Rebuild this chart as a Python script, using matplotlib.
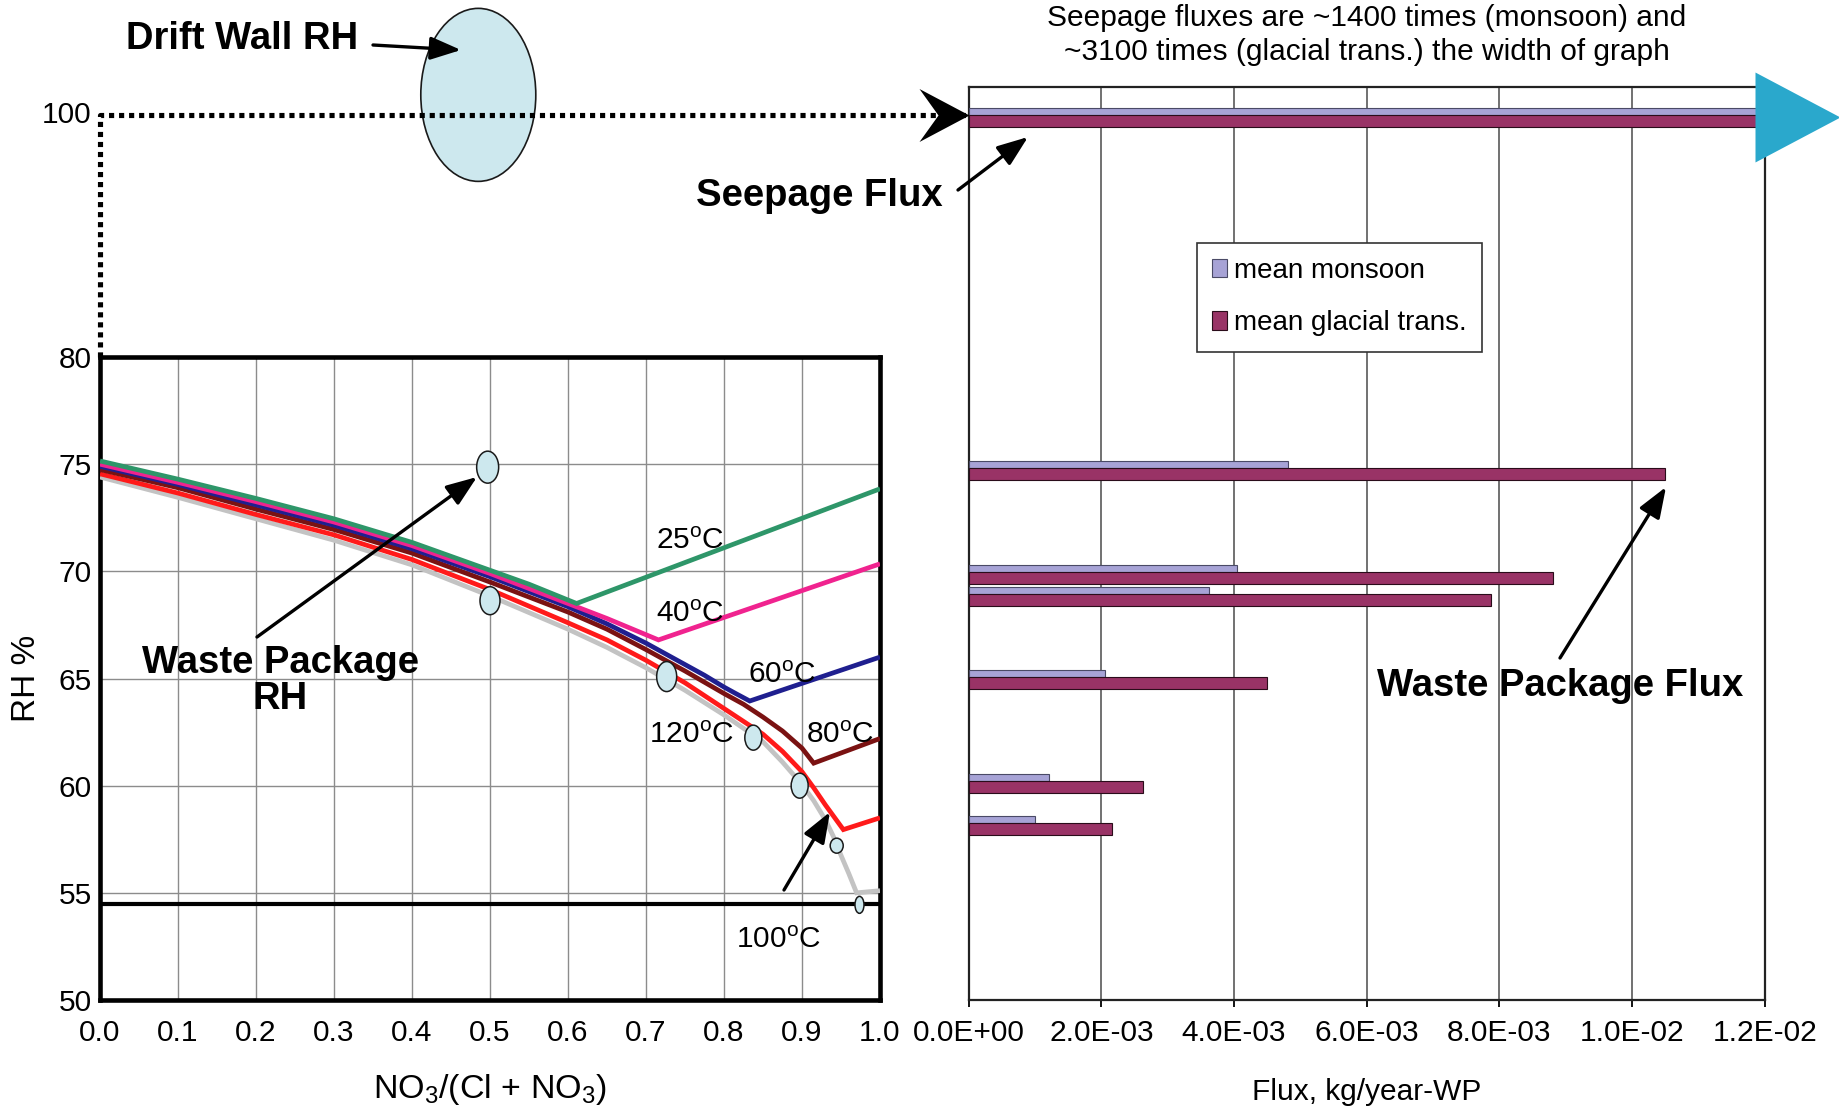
import numpy as np
import matplotlib
matplotlib.use('Agg')
import matplotlib.pyplot as plt
from matplotlib.patches import Ellipse, Patch, FancyArrowPatch
from matplotlib.path import Path
from matplotlib.transforms import ScaledTranslation
from matplotlib.ticker import FuncFormatter

plt.rcParams['font.family'] = ['Liberation Sans', 'DejaVu Sans']
plt.rcParams['mathtext.fontset'] = 'custom'
plt.rcParams['mathtext.rm'] = 'Liberation Sans'
plt.rcParams['mathtext.it'] = 'Liberation Sans:italic'
plt.rcParams['mathtext.bf'] = 'Liberation Sans:bold'

W, H = 1840, 1116

# ---------------- data: deliquescence curves (NO3/(Cl+NO3) vs RH %) ----------------
x_25 = [0.0, 0.1, 0.2, 0.3, 0.4, 0.5, 0.55, 0.611, 1.0]
rh_25 = [75.15, 74.3, 73.4, 72.45, 71.35, 70.05, 69.4, 68.5, 73.85]

x_40 = [0.0, 0.1, 0.2, 0.3, 0.4, 0.5, 0.6, 0.65, 0.716, 1.0]
rh_40 = [75.0, 74.15, 73.25, 72.3, 71.2, 69.9, 68.5, 67.8, 66.8, 70.35]

x_60 = [0.0, 0.1, 0.2, 0.3, 0.4, 0.5, 0.6, 0.65, 0.7, 0.75, 0.775, 0.8, 0.815, 0.833, 1.0]
rh_60 = [74.9, 74.05, 73.1, 72.15, 71.05, 69.75, 68.35, 67.55, 66.65, 65.65, 65.15, 64.6, 64.3, 63.95, 66.0]

x_80 = [0.0, 0.1, 0.2, 0.3, 0.4, 0.5, 0.6, 0.65, 0.7, 0.75, 0.8, 0.825, 0.85, 0.875, 0.9, 0.915, 1.0]
rh_80 = [74.75, 73.9, 72.9, 71.95, 70.85, 69.5, 68.1, 67.3, 66.35, 65.35, 64.3, 63.8, 63.2, 62.55, 61.75, 61.05, 62.2]

x_100 = [0.0, 0.1, 0.2, 0.3, 0.4, 0.5, 0.6, 0.65, 0.7, 0.75, 0.8, 0.85, 0.875, 0.9, 0.915, 0.93, 0.94, 0.953, 1.0]
rh_100 = [74.55, 73.65, 72.65, 71.7, 70.55, 69.15, 67.6, 66.8, 65.85, 64.8, 63.6, 62.4, 61.6, 60.65, 59.9, 59.1, 58.6, 57.95, 58.5]

x_120 = [0.0, 0.1, 0.2, 0.3, 0.4, 0.5, 0.6, 0.65, 0.7, 0.75, 0.8, 0.85, 0.875, 0.9, 0.915,
         0.93, 0.94, 0.95, 0.96, 0.97, 1.0]
rh_120 = [74.4, 73.45, 72.45, 71.45, 70.3, 68.85, 67.3, 66.45, 65.5, 64.45, 63.3, 62.05, 61.1, 60.05, 59.3,
          58.4, 57.65, 56.75, 55.9, 55.0, 55.1]

floor_rh = 54.5

# waste package RH markers
wp_x = [0.497, 0.5, 0.7265, 0.8376, 0.897, 0.9445, 0.9737]
wp_rh = [74.86, 68.63, 65.09, 62.24, 60.0, 57.2, 54.44]
drift_wall_rh = 100

# ---------------- data: fluxes ----------------
graph_width = 1.2e-2
seepage_ratio = [1400, 3100]          # times the width of graph
flux_rh = [100, 74.8, 69.95, 68.95, 65.05, 60.2, 58.25]
flux_monsoon = [seepage_ratio[0] * graph_width, 4.81e-3, 4.04e-3, 3.62e-3, 2.06e-3, 1.21e-3, 1.0e-3]
flux_glacial = [seepage_ratio[1] * graph_width, 1.05e-2, 8.81e-3, 7.88e-3, 4.50e-3, 2.63e-3, 2.16e-3]

# broken RH axis: values above 80 are compressed
RH_BREAK = 80.0
BREAK_SCALE = 0.565


def rh_axis(rh):
    rh = np.asarray(rh, dtype=float)
    return np.where(rh <= RH_BREAK, rh, RH_BREAK + (rh - RH_BREAK) * BREAK_SCALE)


def img(x, y):
    # image pixel (top-left origin) -> figure pixels
    return (x, H - y)


def px_axes(fig, x0, y0, x1, y1):
    return fig.add_axes([x0 / W, 1 - y1 / H, (x1 - x0) / W, (y1 - y0) / H])


FS = 21.5
FS_BOLD = 27.5
MONSOON = '#a7a3d6'
GLACIAL = '#993366'
ELL_FACE = '#cde8ee'

fig = plt.figure(figsize=(W / 100, H / 100), dpi=100)
axl = px_axes(fig, 100, 357, 880, 1000)
axr = px_axes(fig, 968.7, 87, 1764.8, 1000)

# ---------------- left panel ----------------
axl.set_xlim(0, 1)
axl.set_ylim(50, 80)
axl.set_xticks(np.linspace(0, 1, 11))
axl.xaxis.set_major_formatter(FuncFormatter(lambda v, _: f'{v:.1f}'))
axl.set_yticks([50, 55, 60, 65, 70, 75, 80])
axl.grid(True, color='#8c8c8c', lw=1.0)
axl.set_axisbelow(True)
axl.tick_params(length=0, labelsize=FS)
axl.tick_params(axis='x', pad=14)
axl.tick_params(axis='y', pad=6)
for sp in axl.spines.values():
    sp.set_linewidth(3.3)

axl.axhline(floor_rh, color='black', lw=3.0, zorder=3)

curves = [
    (x_120, rh_120, '#c3c3c3'),
    (x_100, rh_100, '#ff1a1a'),
    (x_80, rh_80, '#7a1212'),
    (x_60, rh_60, '#1f1f8f'),
    (x_40, rh_40, '#f0238f'),
    (x_25, rh_25, '#2e9669'),
]
for xs, ys, c in curves:
    axl.plot(xs, ys, color=c, lw=3.4, solid_joinstyle='miter', solid_capstyle='butt', zorder=4)

ell_size_px = [(22, 32), (20, 28), (20, 30), (17, 25), (17, 25), (13, 15), (9, 17)]
for (x, r), (w, h) in zip(zip(wp_x, wp_rh), ell_size_px):
    tr = fig.dpi_scale_trans + ScaledTranslation(x, r, axl.transData)
    axl.add_patch(Ellipse((0, 0), w / 100, h / 100, transform=tr,
                          facecolor=ELL_FACE, edgecolor='#1a1a1a', lw=1.1, zorder=6))

# drift wall RH ellipse (sits just above the 100 line)
tr = fig.dpi_scale_trans + ScaledTranslation(0.485, float(rh_axis(drift_wall_rh)) + 0.93, axl.transData)
axl.add_patch(Ellipse((0, 0), 1.15, 1.73, transform=tr, facecolor=ELL_FACE,
                      edgecolor='#1a1a1a', lw=1.2, clip_on=False, zorder=2))

temp_labels = [('25', 0.756, 71.41), ('40', 0.756, 68.0), ('60', 0.874, 65.15),
               ('120', 0.758, 62.35), ('80', 0.949, 62.35), ('100', 0.870, 52.8)]
for t, x, y in temp_labels:
    axl.text(x, y, t + r'$^{\mathrm{o}}$C', fontsize=FS, ha='center', va='center', zorder=7)

axl.set_xlabel(r'NO$_3$/(Cl + NO$_3$)', fontsize=24.5, labelpad=18)
axl.set_ylabel('RH %', fontsize=24, labelpad=12)

# "100" label of the compressed part of the RH axis
axl.annotate(str(drift_wall_rh), xy=(0, float(rh_axis(drift_wall_rh))), xytext=(-6, 0),
             textcoords='offset points', ha='right', va='center', fontsize=FS,
             annotation_clip=False)

# ---------------- right panel ----------------
axr.set_xlim(0, graph_width)
axr.set_ylim(50, 92.6)
axr.set_xticks(np.linspace(0, graph_width, 7))
axr.xaxis.set_major_formatter(FuncFormatter(lambda v, _: f'{v:.1E}'))
axr.set_yticks([])
axr.grid(True, axis='x', color='#4a4a4a', lw=1.1)
axr.set_axisbelow(True)
axr.tick_params(axis='x', direction='out', length=5, width=1.3, labelsize=FS, pad=9)
for sp in axr.spines.values():
    sp.set_linewidth(1.6)
    sp.set_color('#222222')

ypos = rh_axis(flux_rh)
axr.barh(ypos, flux_monsoon, height=0.34, align='edge', color=MONSOON,
         edgecolor='#4a4a66', lw=0.8, zorder=3)
axr.barh(ypos - 0.56, flux_glacial, height=0.56, align='edge', color=GLACIAL,
         edgecolor='#2a0c1a', lw=0.8, zorder=3)

axr.set_xlabel('Flux, kg/year-WP', fontsize=FS, labelpad=22)

# dotted drift wall RH line from the left panel to the seepage bars
x_left = axr.transData.inverted().transform(axl.transData.transform((0, RH_BREAK)))[0]
y100 = float(rh_axis(drift_wall_rh))
axr.plot([x_left, x_left, 0], [RH_BREAK, y100, y100], color='black', lw=3.7,
         ls=(0, (1, 0.95)), dash_capstyle='butt', clip_on=False, zorder=8)

arrow_head = Path([(0, 0), (-1, 0.53), (-0.62, 0), (-1, -0.53), (0, 0)],
                  [Path.MOVETO, Path.LINETO, Path.LINETO, Path.LINETO, Path.CLOSEPOLY])
axr.plot([0], [y100], marker=arrow_head, ms=72, mew=0, color='black',
         clip_on=False, zorder=9)

tri = Path([(0, -1), (1.89, 0), (0, 1), (0, -1)],
           [Path.MOVETO, Path.LINETO, Path.LINETO, Path.CLOSEPOLY])
axr.plot([0.01185], [y100 - 0.12], marker=tri, ms=122.4, mew=0, color='#2aa8cc',
         clip_on=False, zorder=9)

handles = [Patch(facecolor=MONSOON, edgecolor='#4a4a66', lw=0.8, label='mean monsoon'),
           Patch(facecolor=GLACIAL, edgecolor='#2a0c1a', lw=0.8, label='mean glacial trans.')]
leg = fig.legend(handles=handles, loc='upper left', bbox_to_anchor=(1196.7 / W, 1 - 242.7 / H),
                 bbox_transform=fig.transFigure, fancybox=False, edgecolor='#333333',
                 fontsize=20, handlelength=0.55, handleheight=0.65, handletextpad=0.25,
                 labelspacing=0.95, borderpad=0.55, borderaxespad=0, framealpha=1)
leg.get_frame().set_linewidth(1.2)

# ---------------- annotations ----------------
fig.text(1367 / W, 1 - 35 / H,
         'Seepage fluxes are ~1400 times (monsoon) and\n~3100 times (glacial trans.) the width of graph',
         ha='center', va='center', fontsize=FS, linespacing=1.25)

bold = dict(fontsize=FS_BOLD, fontweight='bold', ha='center', va='center')
arrow = dict(arrowstyle='-|>,head_length=0.85,head_width=0.32', color='black', lw=2.4,
             mutation_scale=22, shrinkA=0, shrinkB=0)

fig.text(242 / W, 1 - 39 / H, 'Drift Wall RH', **bold)
fig.text(819 / W, 1 - 196 / H, 'Seepage Flux', **bold)
fig.text(280 / W, 1 - 681 / H, 'Waste Package\nRH', linespacing=1.0, **bold)
fig.text(1560 / W, 1 - 686 / H, 'Waste Package Flux', **bold)

for tail, tip in [((373, 45), (461, 50)),
                  ((958, 190), (1028, 137)),
                  ((257, 637), (477, 477)),
                  ((1560, 658), (1666, 487)),
                  ((784, 890), (830, 812))]:
    fig.add_artist(FancyArrowPatch(img(*tail), img(*tip), transform=None, **arrow))

fig.savefig('out.png', dpi=100)
